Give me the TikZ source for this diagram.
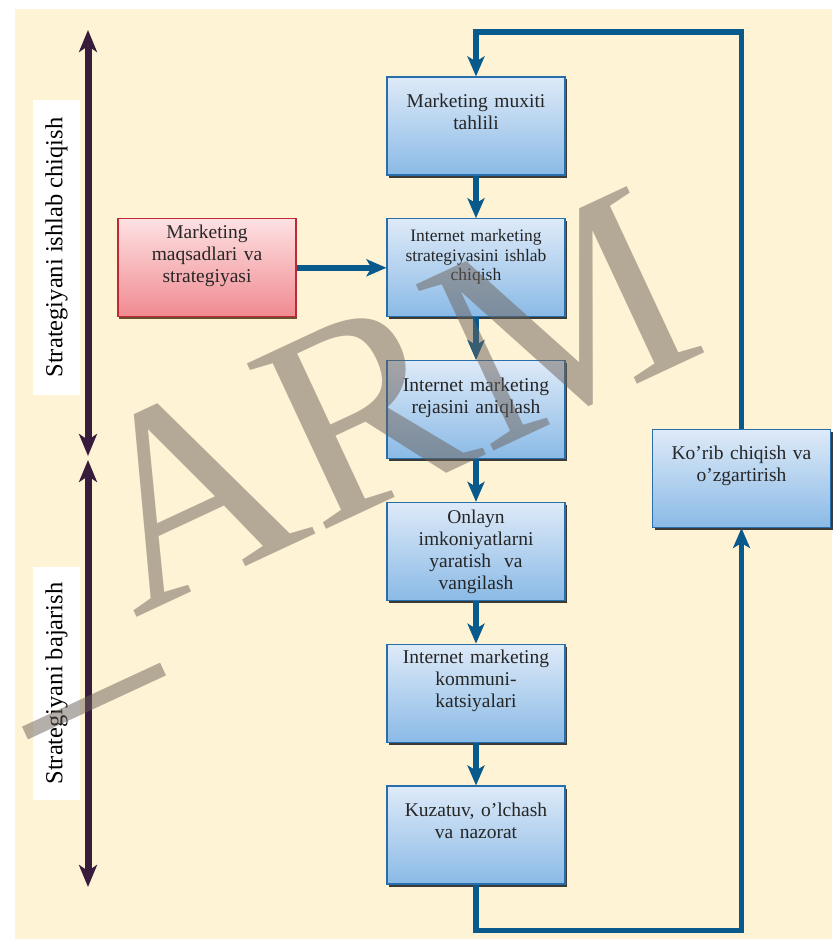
\documentclass[tikz,border=0pt]{standalone}
\usepackage{fontspec}
\setmainfont{Liberation Serif}
\usepackage{xcolor}
\usetikzlibrary{positioning,arrows.meta,shadows}

\definecolor{paper}{RGB}{255,243,214}
\definecolor{flowblue}{RGB}{8,90,140}
\definecolor{phasepurple}{RGB}{56,28,60}
\definecolor{boxtop}{RGB}{222,234,248}
\definecolor{boxbottom}{RGB}{138,186,230}
\definecolor{boxedge}{RGB}{40,110,170}
\definecolor{goaltop}{RGB}{253,225,227}
\definecolor{goalbottom}{RGB}{240,138,144}
\definecolor{goaledge}{RGB}{192,40,52}
\definecolor{goalshade}{RGB}{95,62,35}
\definecolor{inkgrey}{RGB}{107,96,88}

\begin{document}
\begin{tikzpicture}[x=1pt, y=-1pt, node distance=141.8pt,
    boxshape/.style={rectangle, line width=1.1pt, minimum width=178pt, minimum height=98pt, text width=170pt, inner sep=3pt, align=center, text=black!85, font=\fontsize{19.5}{22}\selectfont},
    stagebox/.style={boxshape, draw=boxedge, top color=boxtop, bottom color=boxbottom, drop shadow={shadow xshift=2pt, shadow yshift=-2.5pt, fill=black!85, opacity=0.9}},
    goalbox/.style={boxshape, draw=goaledge, top color=goaltop, bottom color=goalbottom, drop shadow={shadow xshift=1pt, shadow yshift=-2.5pt, fill=goalshade, opacity=0.9}},
    flow/.style={draw=flowblue, line width=5.5pt, -{Stealth[length=20pt, width=17pt, inset=5pt]}},
    phase/.style={draw=phasepurple, line width=7pt, {Stealth[length=22pt, width=18pt, inset=6pt]}-{Stealth[length=22pt, width=18pt, inset=6pt]}},
    phaselabel/.style={fill=white, rotate=90, minimum height=47pt, inner sep=0pt, font=\fontsize{24.5}{28}\selectfont}]
    \useasboundingbox (0,0) rectangle (832,939);
    \fill[paper] (15,9) rectangle (832,939);

    % main column
    \node (env) [stagebox] at (476,126) {Marketing muxiti\\ tahlili\\ \strut};
    \node (strat) [stagebox, below of=env, font=\fontsize{17.5}{19.5}\selectfont] {Internet marketing\\ strategiyasini ishlab\\ chiqish\\ \strut};
    \node (plan) [stagebox, below of=strat] {Internet marketing\\ rejasini aniqlash\\ \strut};
    \node (build) [stagebox, below of=plan] {Onlayn\\ imkoniyatlarni\\ yaratish~ va\\ vangilash};
    \node (comms) [stagebox, below of=build] {Internet marketing\\ kommuni-\\ katsiyalari\\ \strut};
    \node (track) [stagebox, below of=comms] {Kuzatuv, o’lchash\\ va nazorat\\ \strut};

    \node (goals) [goalbox, node distance=269pt, left of=strat] {Marketing\\ maqsadlari va\\ strategiyasi\\ \strut};
    \node (review) [stagebox] at (741.5,478.5) {Ko’rib chiqish va\\ o’zgartirish\\ \strut};

    \draw[flow] (env) -- (strat);
    \draw[flow] (strat) -- (plan);
    \draw[flow] (plan) -- (build);
    \draw[flow] (build) -- (comms);
    \draw[flow] (comms) -- (track);
    \draw[flow] (goals) -- (strat);
    \draw[flow] (track.south) -- ++(0,46) -| (review.south);
    \draw[flow] (review.north) -- ++(0,-397) -| (env.north);

    % phases on the left
    \coordinate (devstart) at (88,30);
    \coordinate (devend) at (88,456);
    \coordinate (runstart) at (88,460);
    \coordinate (runend) at (88,887);
    \draw[phase] (devstart) -- (devend);
    \draw[phase] (runstart) -- (runend);
    \node (devlabel) [phaselabel, minimum width=295pt] at (56.5,247.5) {Strategiyani ishlab chiqish};
    \node (runlabel) [phaselabel, minimum width=233pt] at (56.5,683.5) {Strategiyani bajarish};

    % watermark
    \node (wmark) [rotate=25, anchor=base west, inner sep=0pt, text=inkgrey, text opacity=0.5, font=\fontsize{280}{280}\selectfont] at (134,619) {ARM};
    \draw[inkgrey, opacity=0.5, line width=14pt] (25,733) -- (163,669);
\end{tikzpicture}
\end{document}
